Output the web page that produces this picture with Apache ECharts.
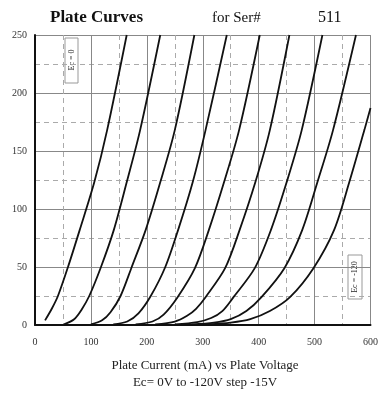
<!DOCTYPE html>
<html>
<head>
<meta charset="utf-8">
<script src="https://cdn.jsdelivr.net/npm/echarts@6/dist/echarts.min.js"></script>
<style>
  html, body { margin: 0; padding: 0; background: #fff; }
  #chart { width: 381px; height: 400px; }
</style>
</head>
<body>
<div id="chart"></div>
<script>
// plate voltage (V) / plate current (mA) pairs, one curve per grid voltage
const gridVolts = [0, -15, -30, -45, -60, -75, -90, -105, -120];
const ec0 = [[18, 4], [30, 14], [41, 25], [59, 50], [80, 82], [106, 123], [129, 168], [164, 250]];
const ec15 = [[52, 0.5], [70, 5], [83, 13], [97, 25], [118, 50], [141, 82], [164, 123], [188, 168], [224, 250]];
const ec30 = [[100, 0.5], [120, 4], [135, 11], [153, 25], [173, 50], [198, 82], [224, 123], [250, 168], [285, 250]];
const ec45 = [[140, 0.5], [165, 3], [185, 10], [207, 25], [233, 50], [256, 82], [282, 123], [305, 168], [343, 250]];
const ec60 = [[180, 0.5], [210, 3], [230, 9], [255, 24], [286, 49], [311, 82], [338, 123], [365, 168], [402, 250]];
const ec75 = [[215, 0.5], [250, 3], [272, 8], [288, 14], [305, 24], [340, 49], [366, 82], [394, 123], [420, 168], [455, 250]];
const ec90 = [[250, 0.5], [290, 2.5], [315, 6], [335, 12], [355, 24], [393, 49], [422, 82], [450, 123], [477, 168], [514, 250]];
const ec105 = [[280, 0.5], [320, 2], [350, 5], [378, 12], [405, 24], [446, 49], [478, 82], [505, 123], [533, 168], [574, 250]];
const ec120 = [[310, 0.5], [350, 2], [385, 5], [420, 12], [456, 24], [498, 49], [535, 82], [562, 123], [589, 168], [600, 187]];
const curves = [ec0, ec15, ec30, ec45, ec60, ec75, ec90, ec105, ec120];

const serif = "'Liberation Serif', 'DejaVu Serif', serif";

const myChart = echarts.init(document.getElementById("chart"));
const option = {
  animation: false,
  grid: {
    left: 35,
    right: 6,
    top: 35,
    bottom: 75,
  },
  xAxis: {
    type: "value",
    min: 0,
    max: 600,
    interval: 100,
    axisLine: { lineStyle: { color: "#111", width: 2 } },
    axisTick: { show: false },
    axisLabel: { color: "#333", fontSize: 10, fontFamily: serif, margin: 12 },
    splitLine: { lineStyle: { color: "#888", width: 1 } },
    minorTick: { show: false, splitNumber: 2 },
    minorSplitLine: { show: true, lineStyle: { color: "#aaa", type: [5, 4] } },
  },
  yAxis: {
    type: "value",
    min: 0,
    max: 250,
    interval: 50,
    axisLine: { show: true, lineStyle: { color: "#111", width: 2 } },
    axisTick: { show: false },
    axisLabel: { color: "#333", fontSize: 10, fontFamily: serif, margin: 8 },
    splitLine: { lineStyle: { color: "#888", width: 1 } },
    minorTick: { show: false, splitNumber: 2 },
    minorSplitLine: { show: true, lineStyle: { color: "#aaa", type: [5, 4] } },
  },
  series: curves.map((d, i) => ({
    name: "Ec=" + gridVolts[i],
    type: "line",
    data: d,
    smooth: 0.3,
    showSymbol: false,
    lineStyle: { color: "#111", width: 1.8 },
  })),
  graphic: [
    {
      type: "text",
      left: 50,
      top: 9,
      style: { text: "Plate Curves", font: "bold 17px " + serif, fill: "#111" },
    },
    {
      type: "text",
      left: 212,
      top: 11,
      style: { text: "for Ser#", font: "15px " + serif, fill: "#111" },
    },
    {
      type: "text",
      left: 318,
      top: 10,
      style: { text: "511", font: "16px " + serif, fill: "#111" },
    },
    {
      type: "rect",
      shape: { x: 65, y: 38, width: 13, height: 45 },
      style: { fill: "#fff", stroke: "#999", lineWidth: 1 },
    },
    {
      type: "text",
      x: 71.5,
      y: 60,
      rotation: Math.PI / 2,
      style: { text: "Ec = 0", font: "8px " + serif, fill: "#222", align: "center", verticalAlign: "middle" },
    },
    {
      type: "rect",
      shape: { x: 348, y: 255, width: 14, height: 44 },
      style: { fill: "#fff", stroke: "#999", lineWidth: 1 },
    },
    {
      type: "text",
      x: 355,
      y: 277,
      rotation: Math.PI / 2,
      style: { text: "Ec = -120", font: "8px " + serif, fill: "#222", align: "center", verticalAlign: "middle" },
    },
    {
      type: "text",
      x: 205,
      y: 366,
      style: { text: "Plate Current (mA) vs Plate Voltage", font: "13px " + serif, fill: "#222", align: "center", verticalAlign: "middle" },
    },
    {
      type: "text",
      x: 205,
      y: 383,
      style: { text: "Ec= 0V to -120V step -15V", font: "13px " + serif, fill: "#222", align: "center", verticalAlign: "middle" },
    },
  ],
};

myChart.setOption(option);
window.addEventListener("resize", () => myChart && myChart.resize());
</script>
</body>
</html>
